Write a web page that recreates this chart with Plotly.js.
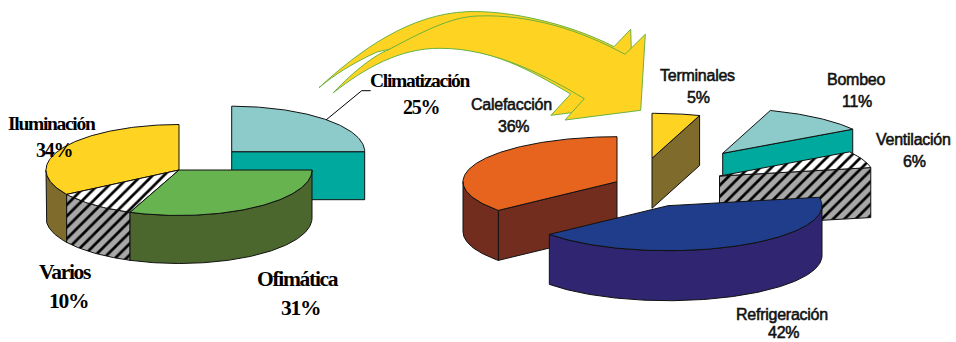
<!DOCTYPE html>
<html>
<head>
<meta charset="utf-8">
<script src="https://cdn.plot.ly/plotly-3.0.1.min.js"></script>
<style>
html,body{margin:0;padding:0;background:#fff;overflow:hidden}
#chart{width:956px;height:342px}
text[style*="Liberation Serif"]{letter-spacing:-1.3px}
text[style*="Liberation Sans"]{letter-spacing:-0.25px;stroke:#111;stroke-width:0.55px}
</style>
</head>
<body>
<div id="chart"></div>
<script>
// Data: consumption shares
const leftLabels  = ['Climatización', 'Ofimática', 'Varios', 'Iluminación'];
const leftValues  = [25, 31, 10, 34];
const rightLabels = ['Terminales', 'Bombeo', 'Ventilación', 'Refrigeración', 'Calefacción'];
const rightValues = [5, 11, 6, 42, 36];

// Styles and geometry, separate from the data
const leftTop   = ['#8CCBC9', '#66B34F', 'hatch', '#FFD322'];
const leftSide  = ['#00A99D', '#4C672E', 'hatchGrey', '#7F6B2B'];
const rightTop  = ['#FFD322', '#8CCBC9', 'hatch', '#1F3D8A', '#E6641E'];
const rightSide = ['#7F6B2B', '#00A99D', 'hatchGrey', '#2F2570', '#732D1F'];
const leftCentres  = [[231.7, 151.7], [179, 170], [179, 170], [179, 170]];
const rightCentres = [[652, 158.3], [722.7, 153.3], [719.5, 176], [668, 205.7], [617, 181.7]];
const leftOrder  = [0, 3, 2, 1];
const rightOrder = [0, 1, 2, 4, 3];
const leftShape  = {rx: 133, ry: 45.5, depth: 48};
const rightShape = {rx: 154, ry: 45, depth: 50};
const leftLabelPos  = [[420, 80, 421, 107], [298, 279, 300, 308], [65, 272, 68, 301], [52, 123, 54, 150]];
const rightLabelPos = [[697, 75, 698, 97], [856, 79, 857, 101], [913, 139, 914, 161], [782, 314, 783, 332], [511, 104, 513, 126]];
const leftNameSize = [19.5, 21.5, 21.5, 19.5];
const leftPctSize  = [20, 21.5, 21.5, 20];
const rightSize = [16, 16, 16, 16, 16];

function serif(size) { return {family: 'Liberation Serif', size: size, color: '#000', weight: 700}; }
function sans(size)  { return {family: 'Liberation Sans', size: size, color: '#111', weight: 400}; }

function paint(style) {
  if (style === 'hatch')
    return {fillcolor: '#fff', fillpattern: {shape: '/', bgcolor: '#fff', fgcolor: '#000', size: 8, solidity: 0.34}};
  if (style === 'hatchGrey')
    return {fillcolor: '#A8A8A8', fillpattern: {shape: '/', bgcolor: '#A8A8A8', fgcolor: '#000', size: 8, solidity: 0.34}};
  return {fillcolor: style};
}
function polarPoint(c, g, deg) {
  const a = deg * Math.PI / 180;
  return [c[0] + g.rx * Math.sin(a), c[1] - g.ry * Math.cos(a)];
}
function arcPoints(c, g, a0, a1) {
  const pts = [];
  const n = Math.max(2, Math.ceil(Math.abs(a1 - a0)));
  for (let i = 0; i <= n; i++) pts.push(polarPoint(c, g, a0 + (a1 - a0) * i / n));
  return pts;
}
function polygon(pts, style, name, pct) {
  return Object.assign({
    type: 'scatter', mode: 'lines', fill: 'toself',
    x: pts.map(p => p[0]).concat(pts[0][0]),
    y: pts.map(p => p[1]).concat(pts[0][1]),
    line: {color: '#111', width: 1},
    name: name, text: name + ' ' + pct + '%', hoveron: 'fills', hoverinfo: 'text',
    showlegend: false
  }, paint(style));
}
function pieTraces(labels, values, tops, sides, centres, order, g) {
  const total = values.reduce((s, v) => s + v, 0);
  let run = 0;
  const spans = values.map(v => { const s = [run, run + v * 360 / total]; run = s[1]; return s; });
  const traces = [];
  order.forEach(i => {
    const c = centres[i], [a0, a1] = spans[i], side = sides[i];
    const down = p => [p[0], p[1] + g.depth];
    const cut = deg => {
      const p = polarPoint(c, g, deg);
      traces.push(polygon([c, p, down(p), down(c)], side, labels[i], values[i]));
    };
    if (Math.sin(a0 * Math.PI / 180) < -1e-6) cut(a0);
    if (Math.sin(a1 * Math.PI / 180) > 1e-6) cut(a1);
    const w0 = Math.max(a0, 90), w1 = Math.min(a1, 270);
    if (w1 > w0) {
      const arc = arcPoints(c, g, w0, w1);
      traces.push(polygon(arc.concat(arc.slice().reverse().map(down)), side, labels[i], values[i]));
    }
    traces.push(polygon([c].concat(arcPoints(c, g, a0, a1)), tops[i], labels[i], values[i]));
  });
  return traces;
}
function labelNotes(labels, values, pos, nameFonts, pctFonts) {
  const notes = [];
  labels.forEach((t, i) => {
    const p = pos[i];
    const base = {xref: 'x', yref: 'y', showarrow: false, xanchor: 'center', yanchor: 'middle'};
    notes.push(Object.assign({x: p[0], y: p[1], text: t, font: nameFonts[i]}, base));
    notes.push(Object.assign({x: p[2], y: p[3], text: values[i] + '%', font: pctFonts[i]}, base));
  });
  return notes;
}

const traces = pieTraces(leftLabels, leftValues, leftTop, leftSide, leftCentres, leftOrder, leftShape)
  .concat(pieTraces(rightLabels, rightValues, rightTop, rightSide, rightCentres, rightOrder, rightShape));

const arrowStyle = {type: 'path', xref: 'x', yref: 'y', fillcolor: '#FFD322', line: {color: '#6AB23E', width: 1}, layer: 'above'};
const shapes = [
  Object.assign({path: 'M319,87.7 C360,50 410,14 467,11.7 C510,10 570,24 614,46.7 L630.7,29.3 L631.3,50 L632,105 L551,115.3 L570.7,94 C530,70 490,48 440,47 C420,46 400,46 377,52 C355,62 335,74 319,87.7 Z'}, arrowStyle),
  Object.assign({path: 'M333.3,92.7 C355,70 375,55 388,50 C420,33 450,17 477,16 C530,14 580,30 625,54.3 L645.3,34.3 L640.7,110.3 L565,120 L584.3,98.7 C550,78 495,48 440,48.3 C400,48 365,68 333.3,92.7 Z'}, arrowStyle),
  {type: 'path', xref: 'x', yref: 'y', path: 'M326,120 L361.7,90.7 L370.7,90.7', line: {color: '#000', width: 1}, layer: 'above'}
];

const layout = {
  width: 956, height: 342,
  margin: {l: 0, r: 0, t: 0, b: 0},
  paper_bgcolor: '#fff', plot_bgcolor: '#fff',
  showlegend: false, hovermode: 'closest',
  xaxis: {range: [0, 956], visible: false, fixedrange: true},
  yaxis: {range: [342, 0], visible: false, fixedrange: true},
  shapes: shapes,
  annotations: labelNotes(leftLabels, leftValues, leftLabelPos, leftNameSize.map(serif), leftPctSize.map(serif))
    .concat(labelNotes(rightLabels, rightValues, rightLabelPos, rightSize.map(sans), rightSize.map(sans)))
};
Plotly.newPlot('chart', traces, layout, {displayModeBar: false, staticPlot: false});
</script>
</body>
</html>
